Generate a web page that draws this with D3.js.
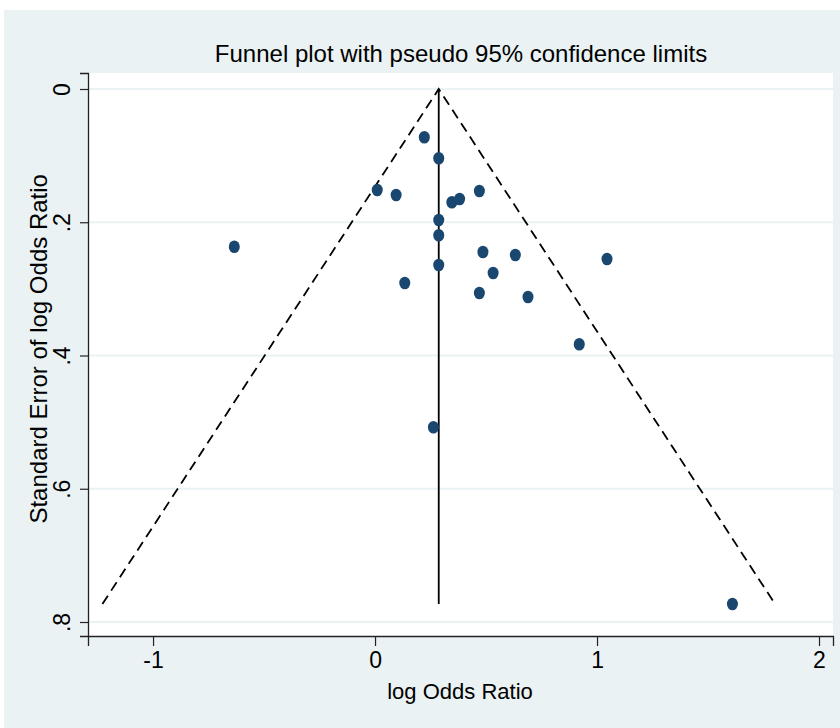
<!DOCTYPE html>
<html>
<head>
<meta charset="utf-8">
<script src="https://cdnjs.cloudflare.com/ajax/libs/d3/7.8.5/d3.min.js"></script>
<style>
  body { margin: 0; background: white; }
  svg text { font-family: "Liberation Sans", Arial, sans-serif; fill: #000; }
</style>
</head>
<body>
<svg id="chart" width="840" height="728"></svg>
<script>
// Data (log odds ratio, its standard error)
var logOR = [0.222, 0.287, 0.010, 0.095, 0.346, 0.381, 0.470, 0.287, 0.287, 0.287,
  -0.634, 0.486, 0.632, 1.045, 0.532, 0.134, 0.470, 0.689, 0.920, 0.263, 1.610];
var seLogOR = [0.0725, 0.104, 0.1516, 0.159, 0.170, 0.165, 0.153, 0.1966, 0.2196, 0.2642,
  0.2367, 0.2447, 0.2492, 0.2552, 0.2762, 0.2912, 0.3062, 0.3122, 0.3832, 0.5078, 0.773];
var pooled = 0.287;
var xTicks = [-1, 0, 1, 2];
var yTicks = [0, 0.2, 0.4, 0.6, 0.8];
var yTickLabels = ["0", ".2", ".4", ".6", ".8"];

function drawFunnel() {
  var svg = d3.select("#chart");

  // Outer graph region
  svg.append("rect")
    .attr("x", 4).attr("y", 10)
    .attr("width", 836).attr("height", 718)
    .attr("fill", "#eaf2f3");

  // Plot region
  var plotLeft = 88, plotRight = 833, plotTop = 73, plotBottom = 636;
  svg.append("rect")
    .attr("x", plotLeft).attr("y", plotTop)
    .attr("width", plotRight - plotLeft).attr("height", plotBottom - plotTop)
    .attr("fill", "white");

  var x = d3.scaleLinear().domain([-1.293, 2.063]).range([plotLeft, plotRight]);
  var y = d3.scaleLinear().domain([-0.024, 0.821]).range([plotTop, plotBottom]);

  // Grid lines
  svg.append("g")
    .selectAll("line")
    .data(yTicks)
    .enter()
    .append("line")
    .attr("x1", plotLeft).attr("x2", plotRight)
    .attr("y1", (d) => y(d)).attr("y2", (d) => y(d))
    .attr("stroke", "#eaf2f3")
    .attr("stroke-width", 2);

  // Funnel: pseudo 95% limits and pooled estimate
  var seMax = d3.max(seLogOR);
  var line = d3.line().x((d) => x(d[0])).y((d) => y(d[1]));

  svg.append("path")
    .attr("d", line([[pooled - 1.96 * seMax, seMax], [pooled, 0], [pooled + 1.96 * seMax, seMax]]))
    .attr("fill", "none")
    .attr("stroke", "#000")
    .attr("stroke-width", 1.8)
    .attr("stroke-dasharray", "10,6");

  svg.append("path")
    .attr("d", line([[pooled, 0], [pooled, seMax]]))
    .attr("stroke", "#000")
    .attr("stroke-width", 1.8);

  // Studies
  svg.append("g")
    .selectAll("ellipse")
    .data(d3.range(logOR.length))
    .enter()
    .append("ellipse")
    .attr("cx", (i) => x(logOR[i]))
    .attr("cy", (i) => y(seLogOR[i]))
    .attr("rx", 5.5)
    .attr("ry", 6.3)
    .attr("fill", "#1a476f");

  // X axis
  var xAxis = svg.append("g")
    .attr("transform", "translate(0," + plotBottom + ")")
    .call(d3.axisBottom(x).tickValues(xTicks).tickSize(10).tickPadding(6).tickFormat(d3.format("d")));
  xAxis.select(".domain").attr("stroke", "#222").attr("stroke-width", 1.3);
  xAxis.selectAll(".tick line").attr("stroke", "#222").attr("stroke-width", 1.2);
  xAxis.selectAll(".tick text")
    .style("font-size", "23px")
    .style("font-family", '"Liberation Sans", Arial, sans-serif')
    .attr("fill", "#000")
    .text((d) => (d < 0 ? "-" + Math.abs(d) : d));

  // Y axis
  var yAxis = svg.append("g")
    .attr("transform", "translate(" + plotLeft + ",0)")
    .call(d3.axisLeft(y).tickValues(yTicks).tickSize(8).tickFormat((d, i) => yTickLabels[i]));
  yAxis.select(".domain").attr("stroke", "#222").attr("stroke-width", 1.3);
  yAxis.selectAll(".tick line").attr("stroke", "#222").attr("stroke-width", 1.2);
  yAxis.selectAll(".tick text")
    .style("font-size", "23px")
    .style("font-family", '"Liberation Sans", Arial, sans-serif')
    .attr("fill", "#000")
    .attr("x", null).attr("dy", null)
    .attr("text-anchor", "middle")
    .attr("transform", "translate(-18,0) rotate(-90)");

  // Titles
  svg.append("text")
    .attr("x", 461).attr("y", 62)
    .attr("text-anchor", "middle")
    .style("font-size", "24px")
    .text("Funnel plot with pseudo 95% confidence limits");

  svg.append("text")
    .attr("x", 460).attr("y", 699)
    .attr("text-anchor", "middle")
    .style("font-size", "22px")
    .text("log Odds Ratio");

  svg.append("text")
    .attr("transform", "translate(47," + y(0.39) + ") rotate(-90)")
    .attr("text-anchor", "middle")
    .style("font-size", "24px")
    .text("Standard Error of log Odds Ratio");
}

drawFunnel();
</script>
</body>
</html>
